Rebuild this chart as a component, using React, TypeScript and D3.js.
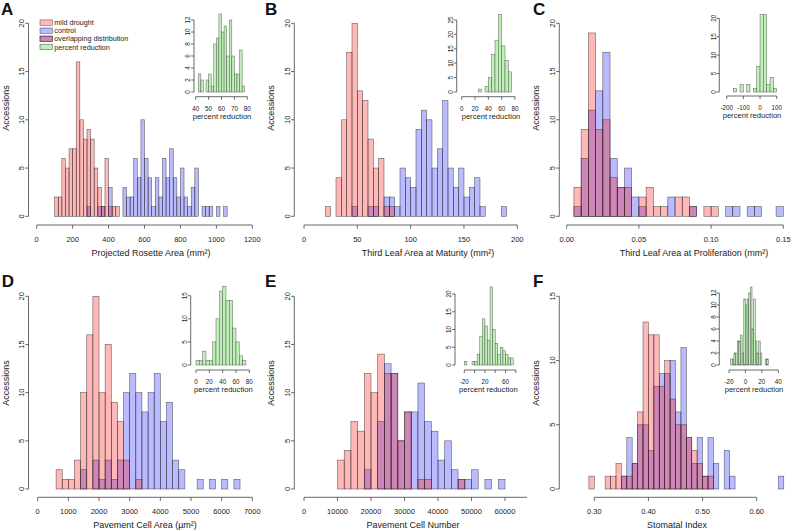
import React, { useRef, useEffect } from "react";
import * as d3 from "d3";

// Histogram counts (accessions per bin).
// Each series is a run of consecutive bins that begins at its *Start value.

// A: projected rosette area (mm2)
const widthA = 20;
const droughtStartA = 100;
const droughtA = [2, 2, 6, 5, 7, 7, 16, 10, 8, 9, 8, 5, 3, 1, 6, 1, 1, 1];
const controlStartA = 280;
const controlA = [1, 0, 0, 1, 1, 0, 3, 0, 0, 0, 3, 2, 2, 6, 4, 10, 6, 4, 1, 4, 2, 6, 4, 7, 4, 2, 5, 2, 1, 3, 5, 0, 1, 1, 1, 0, 1, 0, 1];
const insetWidthA = 2;
const insetStartA = 42;
const insetA = [3, 2, 0, 2, 3, 1, 8, 9, 13, 10, 11, 6, 12, 6, 3, 3, 7, 1];

// B: third leaf area at maturity (mm2)
const widthB = 5;
const droughtStartB = 20;
const droughtB = [1, 0, 4, 10, 17, 20, 13, 12, 8, 5, 6, 1, 1];
const controlStartB = 45;
const controlB = [1, 0, 0, 1, 1, 0, 2, 2, 1, 5, 4, 3, 9, 11, 10, 5, 7, 12, 5, 3, 5, 2, 3, 4, 1, 0, 0, 0, 1];
const insetWidthB = 5;
const insetStartB = 25;
const insetB = [1, 0, 2, 5, 13, 18, 27, 16, 11, 7];

// C: third leaf area at proliferation (mm2)
const widthC = 0.005;
const droughtStartC = 0.005;
const droughtC = [3, 9, 19, 9, 10, 4, 3, 3, 0, 2, 3, 1, 1, 0, 2, 2, 1, 0, 1, 1];
const controlStartC = 0.005;
const controlC = [1, 6, 11, 13, 17, 6, 3, 5, 2, 1, 0, 0, 0, 2, 0, 0, 1, 0, 0, 0, 0, 1, 1, 0, 1, 1, 0, 0, 1];
const insetWidthC = 20;
const insetStartC = -160;
const insetC = [1, 0, 2, 0, 2, 0, 1, 7, 21, 21, 2, 4, 1];

// D: pavement cell area (um2)
const widthD = 200;
const droughtStartD = 600;
const droughtD = [2, 1, 1, 3, 10, 16, 20, 10, 15, 9, 7, 3, 0, 1];
const controlStartD = 1400;
const controlD = [2, 0, 3, 1, 3, 1, 3, 10, 12, 10, 8, 10, 12, 7, 9, 3, 2, 0, 0, 1, 0, 1, 0, 1, 0, 1];
const insetWidthD = 5;
const insetStartD = 0;
const insetD = [1, 1, 3, 1, 1, 5, 10, 16, 17, 14, 14, 8, 5, 2, 1];

// E: pavement cell number
const widthE = 2000;
const droughtStartE = 10000;
const droughtE = [3, 4, 7, 6, 12, 10, 14, 12, 12, 5, 8, 0, 1, 1, 0, 0, 0, 0, 1];
const controlStartE = 18000;
const controlE = [2, 0, 7, 13, 12, 5, 8, 8, 11, 7, 6, 3, 5, 2, 1, 1, 2, 0, 1, 0, 1];
const insetWidthE = 5;
const insetStartE = -20;
const insetE = [1, 0, 0, 1, 1, 3, 8, 13, 11, 7, 22, 10, 6, 3, 5, 4, 3, 2, 2];

// F: stomatal index
const widthF = 0.01;
const droughtStartF = 0.29;
const droughtF = [1, 0, 0, 1, 1, 2, 1, 1, 2, 6, 13, 12, 12, 8, 10, 7, 5, 5, 4, 3, 2, 1, 1];
const controlStartF = 0.35;
const controlF = [1, 4, 2, 5, 5, 3, 8, 9, 9, 10, 6, 11, 4, 2, 4, 1, 4, 2, 0, 3, 1, 0, 0, 0, 0, 0, 0, 0, 0, 1];
const insetWidthF = 2;
const insetStartF = -18;
const insetF = [1, 1, 2, 2, 4, 4, 5, 2, 11, 10, 11, 12, 13, 6, 11, 4, 2, 4, 2, 0, 0, 1, 1];

const legendLabels = ["mild drought", "control", "overlapping distribution", "percent reduction"];

const RED = "#ff0000";
const BLUE = "#0000ff";
const GREEN = "#bff0b8";
const FONT = "Liberation Sans, Arial, Helvetica, sans-serif";
const INK = "#222";
const AXIS = "#444";

const top = { y0: 216.3, y1: 23.3, axisY: 225, titleY: 255.5, yTitleY: 108, letterY: 15 };
const bot = { y0: 489, y1: 296.3, axisY: 497.3, titleY: 527.5, yTitleY: 383, letterY: 287 };
const insetTop = { y0: 92, axisY: 96.7 };
const insetBot = { y0: 365, axisY: 370 };

const panels = [
  {
    letter: "A", letterX: 1, row: top, yAxisX: 28.5, yTitleX: 9.3, yMax: 20, yTicks: [0, 5, 10, 15, 20],
    xDomain: [0, 1200], xRange: [36.7, 252.3], xTicks: d3.range(0, 1201, 200), fmt: d3.format("d"),
    title: "Projected Rosette Area (mm²)", titleX: 151,
    width: widthA, drought: droughtA, droughtStart: droughtStartA, control: controlA, controlStart: controlStartA,
    inset: {
      row: insetTop, y1: 20, yMax: 12, yTicks: d3.range(0, 13, 2), yAxisX: 194,
      xDomain: [40, 80], xRange: [195.7, 247.3], xTicks: [40, 50, 60, 70, 80], labelTicks: [40, 50, 60, 70, 80],
      titleX: 222, start: insetStartA, width: insetWidthA, counts: insetA,
    },
  },
  {
    letter: "B", letterX: 265, row: top, yAxisX: 294.3, yTitleX: 274.3, yMax: 20, yTicks: [0, 5, 10, 15, 20],
    xDomain: [0, 200], xRange: [304, 517.3], xTicks: d3.range(0, 201, 50), fmt: d3.format("d"),
    title: "Third Leaf Area at Maturity (mm²)", titleX: 428,
    width: widthB, drought: droughtB, droughtStart: droughtStartB, control: controlB, controlStart: controlStartB,
    inset: {
      row: insetTop, y1: 20, yMax: 25, yTicks: d3.range(0, 26, 5), yAxisX: 456.7,
      xDomain: [0, 80], xRange: [461.7, 515], xTicks: [0, 20, 40, 60, 80], labelTicks: [0, 20, 40, 60, 80],
      titleX: 491, start: insetStartB, width: insetWidthB, counts: insetB,
    },
  },
  {
    letter: "C", letterX: 533, row: top, yAxisX: 559.3, yTitleX: 539.3, yMax: 20, yTicks: [0, 5, 10, 15, 20],
    xDomain: [0, 0.15], xRange: [566.7, 783.3], xTicks: [0, 0.05, 0.1, 0.15], fmt: d3.format(".2f"),
    title: "Third Leaf Area at Proliferation (mm²)", titleX: 694,
    width: widthC, drought: droughtC, droughtStart: droughtStartC, control: controlC, controlStart: controlStartC,
    inset: {
      row: { y0: 92, axisY: 96 }, y1: 18.3, yMax: 20, yTicks: d3.range(0, 21, 5), yAxisX: 719.3,
      xDomain: [-200, 100], xRange: [726.7, 776.7], xTicks: [-200, -100, 0, 100], labelTicks: [-200, -100, 0, 100],
      titleX: 752, start: insetStartC, width: insetWidthC, counts: insetC,
    },
  },
  {
    letter: "D", letterX: 1.7, row: bot, yAxisX: 28.5, yTitleX: 9.3, yMax: 20, yTicks: [0, 5, 10, 15, 20],
    xDomain: [0, 7000], xRange: [37.7, 252.3], xTicks: d3.range(0, 7001, 1000), fmt: d3.format("d"),
    title: "Pavement Cell Area (µm²)", titleX: 145,
    width: widthD, drought: droughtD, droughtStart: droughtStartD, control: controlD, controlStart: controlStartD,
    inset: {
      row: insetBot, y1: 295.7, yMax: 15, yTicks: [0, 5, 10, 15], yAxisX: 190.7,
      xDomain: [0, 80], xRange: [196, 249.3], xTicks: [0, 20, 40, 60, 80], labelTicks: [0, 20, 40, 60, 80],
      titleX: 223.3, start: insetStartD, width: insetWidthD, counts: insetD,
    },
  },
  {
    letter: "E", letterX: 265, row: bot, yAxisX: 294.3, yTitleX: 274.3, yMax: 20, yTicks: [0, 5, 10, 15, 20],
    xDomain: [0, 60000], xRange: [304, 505], xTicks: d3.range(0, 70001, 10000), fmt: d3.format("d"),
    axisClip: 527,
    title: "Pavement Cell Number", titleX: 413,
    width: widthE, drought: droughtE, droughtStart: droughtStartE, control: controlE, controlStart: controlStartE,
    inset: {
      row: insetBot, y1: 294, yMax: 20, yTicks: d3.range(0, 21, 5), yAxisX: 455,
      xDomain: [-20, 60], xRange: [464.3, 505.5], xTicks: [-20, 0, 20, 40, 60, 80], labelTicks: [-20, 20, 60],
      titleX: 488.3, start: insetStartE, width: insetWidthE, counts: insetE,
    },
  },
  {
    letter: "F", letterX: 533, row: bot, yAxisX: 559.3, yTitleX: 539.3, yMax: 15, yTicks: [0, 5, 10, 15],
    xDomain: [0.3, 0.6], xRange: [594.3, 756.7], xTicks: [0.3, 0.4, 0.5, 0.6], fmt: d3.format(".2f"),
    title: "Stomatal Index", titleX: 677,
    width: widthF, drought: droughtF, droughtStart: droughtStartF, control: controlF, controlStart: controlStartF,
    inset: {
      row: insetBot, y1: 293, yMax: 12, yTicks: d3.range(0, 13, 2), yAxisX: 719.3,
      xDomain: [-20, 40], xRange: [729, 778.3], xTicks: [-20, 0, 20, 40], labelTicks: [-20, 0, 20, 40],
      titleX: 754, start: insetStartF, width: insetWidthF, counts: insetF,
    },
  },
];

function drawHist(g, x, y, start, width, counts, fill, opacity, strokeW = 0.6) {
  counts.forEach((c, i) => {
    if (!c) return;
    const x0 = x(start + i * width);
    const x1 = x(start + (i + 1) * width);
    g.append("rect")
      .attr("x", x0)
      .attr("y", y(c))
      .attr("width", x1 - x0)
      .attr("height", y(0) - y(c))
      .attr("fill", fill)
      .attr("fill-opacity", opacity)
      .attr("stroke", "#2a2a2a")
      .attr("stroke-opacity", 0.7)
      .attr("stroke-width", strokeW);
  });
}

function xAxisR(g, x, ticks, labelTicks, axisY, fmt, tick, size, labelDy) {
  g.append("line")
    .attr("x1", x(ticks[0])).attr("x2", x(ticks[ticks.length - 1]))
    .attr("y1", axisY).attr("y2", axisY)
    .attr("stroke", AXIS).attr("stroke-width", 0.8);
  ticks.forEach((t) => {
    g.append("line")
      .attr("x1", x(t)).attr("x2", x(t))
      .attr("y1", axisY).attr("y2", axisY + tick)
      .attr("stroke", AXIS).attr("stroke-width", 0.8);
  });
  labelTicks.forEach((t) => {
    g.append("text")
      .attr("x", x(t))
      .attr("y", axisY + labelDy)
      .attr("text-anchor", "middle")
      .attr("font-size", size)
      .attr("fill", INK)
      .text(fmt(t));
  });
}

function yAxisR(g, y, ticks, axisX, tick, size, labelDx) {
  g.append("line")
    .attr("x1", axisX).attr("x2", axisX)
    .attr("y1", y(ticks[0])).attr("y2", y(ticks[ticks.length - 1]))
    .attr("stroke", AXIS).attr("stroke-width", 0.8);
  ticks.forEach((t) => {
    g.append("line")
      .attr("x1", axisX - tick).attr("x2", axisX)
      .attr("y1", y(t)).attr("y2", y(t))
      .attr("stroke", AXIS).attr("stroke-width", 0.8);
    g.append("text")
      .attr("transform", `translate(${axisX - labelDx},${y(t)}) rotate(-90)`)
      .attr("text-anchor", "middle")
      .attr("font-size", size)
      .attr("fill", INK)
      .text(t);
  });
}

export default function App() {
  const svgRef = useRef(null);

  useEffect(() => {
    const svg = d3.select(svgRef.current);
    svg.selectAll("*").remove();
    const root = svg.append("g").attr("font-family", FONT);

    panels.forEach((p, pi) => {
      const g = root.append("g");
      const x = d3.scaleLinear().domain(p.xDomain).range(p.xRange);
      const y = d3.scaleLinear().domain([0, p.yMax]).range([p.row.y0, p.row.y1]);

      // control first, drought on top -> overlap reads purple
      drawHist(g, x, y, p.controlStart, p.width, p.control, BLUE, 0.27);
      drawHist(g, x, y, p.droughtStart, p.width, p.drought, RED, 0.28);

      const xa = g.append("g");
      if (p.axisClip) {
        const id = `clip-${pi}`;
        svg.append("clipPath").attr("id", id)
          .append("rect").attr("x", 0).attr("y", 0).attr("width", p.axisClip).attr("height", 531);
        xa.attr("clip-path", `url(#${id})`);
      }
      xAxisR(xa, x, p.xTicks, p.xTicks, p.row.axisY, p.fmt, 3.7, 7.5, 16.8);
      yAxisR(g, y, p.yTicks, p.yAxisX, 3.2, 7.5, 4.2);

      g.append("text")
        .attr("x", p.titleX).attr("y", p.row.titleY)
        .attr("text-anchor", "middle").attr("font-size", 9).attr("fill", INK)
        .text(p.title);
      g.append("text")
        .attr("transform", `translate(${p.yTitleX},${p.row.yTitleY}) rotate(-90)`)
        .attr("text-anchor", "middle").attr("font-size", 9).attr("fill", INK)
        .text("Accessions");
      g.append("text")
        .attr("x", p.letterX).attr("y", p.row.letterY)
        .attr("font-size", 17).attr("font-weight", 700).attr("fill", "#111")
        .text(p.letter);

      // inset: percent reduction
      const s = p.inset;
      const ix = d3.scaleLinear().domain(s.xDomain).range(s.xRange);
      const iy = d3.scaleLinear().domain([0, s.yMax]).range([s.row.y0, s.y1]);
      drawHist(g, ix, iy, s.start, s.width, s.counts, GREEN, 1, 0.5);
      xAxisR(g, ix, s.xTicks, s.labelTicks, s.row.axisY, (v) => `${v}`, 3, 6.3, 13.8);
      yAxisR(g, iy, s.yTicks, s.yAxisX, 2.8, 6.3, 3.6);
      g.append("text")
        .attr("x", s.titleX).attr("y", s.row.axisY + 22)
        .attr("text-anchor", "middle").attr("font-size", 7.6).attr("fill", INK)
        .text("percent reduction");
    });

    // legend in panel A
    const lg = root.append("g");
    const ly = d3.scalePoint().domain(legendLabels).range([22.6, 46.9]);
    const swatches = [
      [[RED, 0.28]],
      [[BLUE, 0.27]],
      [[BLUE, 0.27], [RED, 0.28]],
      [[GREEN, 1]],
    ];
    legendLabels.forEach((lab, i) => {
      swatches[i].forEach(([c, o]) => {
        lg.append("rect")
          .attr("x", 40).attr("y", ly(lab) - 2.7)
          .attr("width", 12.3).attr("height", 5.4)
          .attr("fill", c).attr("fill-opacity", o)
          .attr("stroke", "#2a2a2a").attr("stroke-opacity", 0.7).attr("stroke-width", 0.6);
      });
      lg.append("text")
        .attr("x", 54.3).attr("y", ly(lab) + 2.6)
        .attr("font-size", 7.2).attr("fill", INK)
        .text(lab);
    });
  }, []);

  return (
    <svg
      ref={svgRef}
      width={793}
      height={531}
      style={{ position: "absolute", left: 0, top: 0, background: "#fff" }}
    />
  );
}
